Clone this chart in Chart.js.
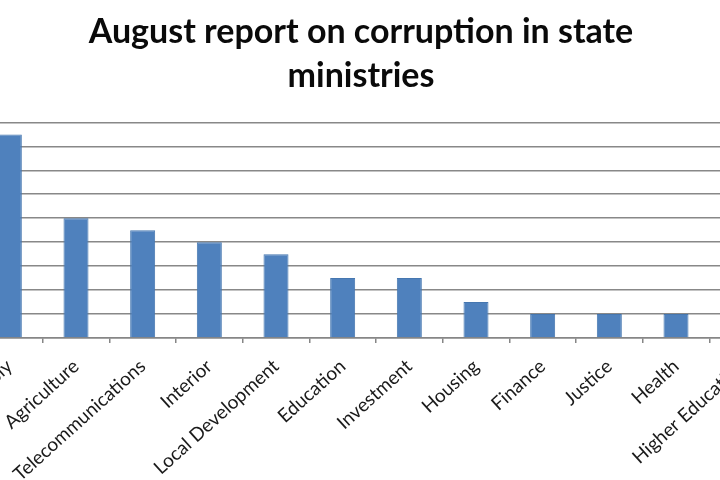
<!DOCTYPE html>
<html>
<head>
<meta charset="utf-8">
<script src="https://cdn.jsdelivr.net/npm/chart.js@4/dist/chart.umd.min.js"></script>
<style>
  html, body { margin: 0; padding: 0; background: #fff; overflow: hidden; width: 720px; height: 480px; }
  #wrap { position: absolute; left: -100px; top: 0; width: 922px; height: 480px; }
</style>
</head>
<body>
<div id="wrap"><canvas id="chart"></canvas></div>
<script>
// ministries and the number of corruption cases reported
const ministries = ['Supply', 'Agriculture', 'Telecommunications', 'Interior', 'Local Development',
  'Education', 'Investment', 'Housing', 'Finance', 'Justice', 'Health', 'Higher Education'];
const cases = [8.5, 5, 4.5, 4, 3.5, 2.5, 2.5, 1.5, 1, 1, 1, 1];
const yMax = 9;

const ctx = document.getElementById('chart').getContext('2d');
new Chart(ctx, {
  type: 'bar',
  data: {
    labels: ministries,
    datasets: [{
      label: 'Cases',
      data: cases,
      backgroundColor: '#4f81bd',
      borderColor: '#4677b0',
      borderWidth: 1,
      barPercentage: 0.375,
      categoryPercentage: 1
    }]
  },
  options: {
    responsive: true,
    maintainAspectRatio: false,
    animation: false,
    layout: { padding: 0 },
    plugins: {
      legend: { display: false },
      tooltip: { enabled: false },
      title: {
        display: true,
        text: ['August report on corruption in state', 'ministries'],
        color: '#0a0a0a',
        font: { family: 'Lato', size: 34, weight: 'bold', lineHeight: 1.3 },
        padding: { top: 10, bottom: 24 }
      }
    },
    scales: {
      x: {
        grid: { drawOnChartArea: false, drawTicks: true, tickLength: 5, color: '#868686', lineWidth: 1.5 },
        border: { color: '#868686', width: 1.5 },
        ticks: {
          color: '#1a1a1a',
          font: { family: 'Lato', size: 19 },
          minRotation: 42,
          maxRotation: 42,
          autoSkip: false,
          padding: 12
        },
        afterFit: s => { s.height = 142; }
      },
      y: {
        min: 0,
        max: yMax,
        ticks: { display: false, stepSize: 1 },
        grid: { color: '#888', lineWidth: 1.6, drawTicks: false },
        border: { display: false },
        afterFit: s => { s.width = 76; }
      },
      yRight: {
        position: 'right',
        min: 0,
        max: yMax,
        ticks: { display: false },
        grid: { display: false },
        border: { display: false },
        afterFit: s => { s.width = 46; }
      }
    }
  }
});
</script>
</body>
</html>
